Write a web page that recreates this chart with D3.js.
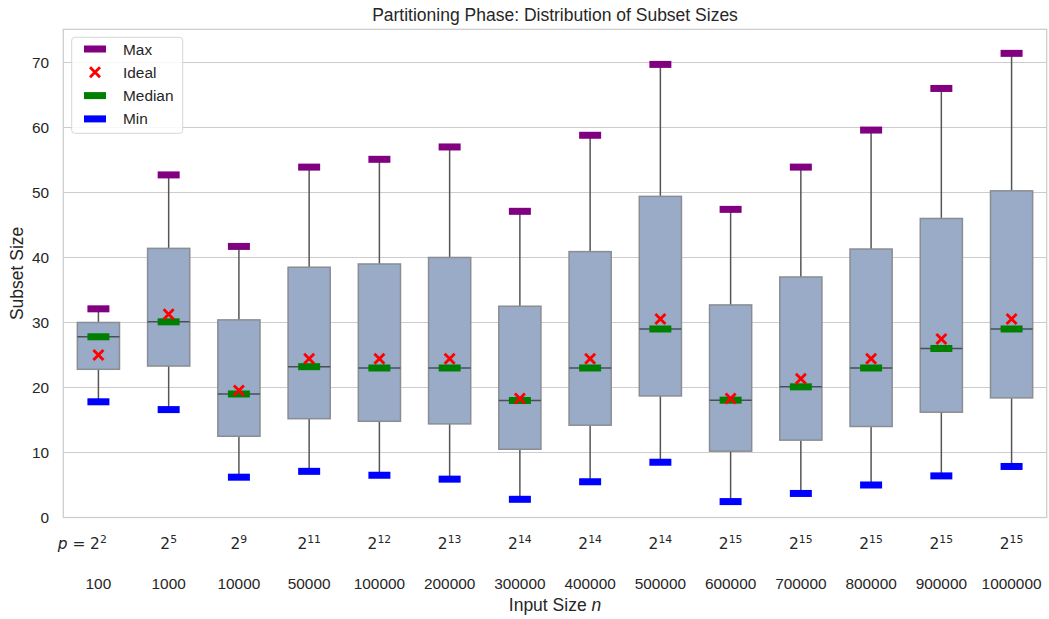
<!DOCTYPE html>
<html>
<head>
<meta charset="utf-8">
<script src="https://cdn.jsdelivr.net/npm/d3@7"></script>
<style>
  body { margin: 0; background: #fff; }
  text { font-family: "Liberation Sans", Arial, sans-serif; fill: #262626; }
</style>
</head>
<body>
<svg width="1049" height="619"></svg>
<script>
const sizes = ["100", "1000", "10000", "50000", "100000", "200000", "300000",
  "400000", "500000", "600000", "700000", "800000", "900000", "1000000"];
const pExp = [2, 5, 9, 11, 12, 13, 14, 14, 14, 15, 15, 15, 15, 15];
const minVals = [17.8, 16.6, 6.2, 7.1, 6.5, 5.9, 2.8, 5.5, 8.5, 2.45, 3.7, 5.0, 6.4, 7.85];
const q1Vals = [22.8, 23.3, 12.5, 15.2, 14.8, 14.4, 10.5, 14.2, 18.7, 10.2, 11.9, 14.0, 16.2, 18.4];
const medVals = [27.8, 30.1, 19.0, 23.2, 23.0, 23.0, 18.0, 23.0, 29.0, 18.05, 20.1, 23.0, 26.0, 29.0];
const q3Vals = [30.0, 41.4, 30.4, 38.5, 39.0, 40.0, 32.5, 40.9, 49.4, 32.7, 37.0, 41.3, 46.0, 50.25];
const maxVals = [32.1, 52.7, 41.7, 53.9, 55.1, 57.0, 47.1, 58.8, 69.7, 47.4, 53.9, 59.6, 66.0, 71.4];
const idealVals = [25.0, 31.25, 19.53, 24.41, 24.41, 24.41, 18.31, 24.41, 30.52, 18.31, 21.36, 24.41, 27.47, 30.52];
const yTicks = [0, 10, 20, 30, 40, 50, 60, 70];

const svg = d3.select("svg");
const plotL = 63.3, plotR = 1046.7, plotT = 29.3, plotB = 517.5;
const tickFs = 15.4, labelFs = 17.5;

const x = d3.scaleBand().domain(sizes).range([plotL, plotR]).paddingInner(0).paddingOuter(0);
const y = d3.scaleLinear().domain([0, 75.1]).range([plotB, plotT]);
const bw = x.bandwidth();
const cx = (i) => x(sizes[i]) + bw / 2;

// grid
svg.append("g").selectAll("line").data(yTicks).join("line")
  .attr("x1", plotL).attr("x2", plotR)
  .attr("y1", (d) => y(d)).attr("y2", (d) => y(d))
  .attr("stroke", "#cccccc").attr("stroke-width", 1.1);

// y tick labels
svg.append("g").selectAll("text").data(yTicks).join("text")
  .attr("x", 49).attr("y", (d) => y(d)).attr("dy", "0.36em")
  .attr("text-anchor", "end").attr("font-size", tickFs).text((d) => d);

const boxes = svg.append("g");
sizes.forEach((s, i) => {
  const g = boxes.append("g");
  const c = cx(i);
  const w = bw * 0.6;
  // whiskers
  g.append("line").attr("x1", c).attr("x2", c)
    .attr("y1", y(q3Vals[i])).attr("y2", y(maxVals[i]))
    .attr("stroke", "#555").attr("stroke-width", 1.5);
  g.append("line").attr("x1", c).attr("x2", c)
    .attr("y1", y(q1Vals[i])).attr("y2", y(minVals[i]))
    .attr("stroke", "#555").attr("stroke-width", 1.5);
  g.append("rect").attr("x", c - w / 2).attr("width", w)
    .attr("y", y(q3Vals[i])).attr("height", y(q1Vals[i]) - y(q3Vals[i]))
    .attr("fill", "#9aabc7").attr("stroke", "#8a8d92").attr("stroke-width", 1.5);
  g.append("line").attr("x1", c - w / 2).attr("x2", c + w / 2)
    .attr("y1", y(medVals[i])).attr("y2", y(medVals[i]))
    .attr("stroke", "#4a4f57").attr("stroke-width", 1.5);
});

function bar(g, cxp, cyp, color) {
  g.append("rect").attr("x", cxp - 11).attr("y", cyp - 3.5)
    .attr("width", 22).attr("height", 7).attr("fill", color);
}
function cross(g, cxp, cyp) {
  const r = 5;
  g.append("path")
    .attr("d", `M${cxp - r},${cyp - r}L${cxp + r},${cyp + r}M${cxp - r},${cyp + r}L${cxp + r},${cyp - r}`)
    .attr("stroke", "#ff0000").attr("stroke-width", 2.8).attr("fill", "none");
}

const marks = svg.append("g");
sizes.forEach((s, i) => {
  bar(marks, cx(i), y(maxVals[i]), "#800080");
  bar(marks, cx(i), y(minVals[i]), "#0000ff");
  bar(marks, cx(i), y(medVals[i]), "#008000");
  cross(marks, cx(i), y(idealVals[i]));
});

// spines
svg.append("rect").attr("x", plotL).attr("y", plotT)
  .attr("width", plotR - plotL).attr("height", plotB - plotT)
  .attr("fill", "none").attr("stroke", "#cccccc").attr("stroke-width", 1.25);

// x tick labels: p row and n row
const xl = svg.append("g");
sizes.forEach((s, i) => {
  const t = xl.append("text").attr("x", cx(i)).attr("y", 549)
    .attr("text-anchor", "middle").attr("font-size", tickFs)
    .style("font-family", "'DejaVu Sans', sans-serif");
  t.append("tspan").text("2");
  t.append("tspan").attr("dy", -6).attr("font-size", 10.8).text(pExp[i]);
  xl.append("text").attr("x", cx(i)).attr("y", 589)
    .attr("text-anchor", "middle").attr("font-size", tickFs).text(s);
});
xl.append("text").attr("x", cx(0) - 13).attr("y", 549)
  .attr("text-anchor", "end").attr("font-size", tickFs)
  .style("font-family", "'DejaVu Sans', sans-serif")
  .html("<tspan font-style='italic'>p</tspan> =");

// axis labels and title
svg.append("text").attr("x", (plotL + plotR) / 2).attr("y", 611)
  .attr("text-anchor", "middle").attr("font-size", labelFs)
  .html("Input Size <tspan font-style='italic'>n</tspan>");
svg.append("text").attr("transform", `translate(23,${(plotT + plotB) / 2}) rotate(-90)`)
  .attr("text-anchor", "middle").attr("font-size", labelFs).text("Subset Size");
svg.append("text").attr("x", (plotL + plotR) / 2).attr("y", 21)
  .attr("text-anchor", "middle").attr("font-size", labelFs)
  .text("Partitioning Phase: Distribution of Subset Sizes");

// legend
const lg = svg.append("g");
lg.append("rect").attr("x", 71.7).attr("y", 37.3).attr("width", 111).attr("height", 96)
  .attr("rx", 3).attr("fill", "#fff").attr("fill-opacity", 0.85)
  .attr("stroke", "#d6d6d6").attr("stroke-width", 1);
const legItems = [
  { label: "Max", type: "bar", color: "#800080" },
  { label: "Ideal", type: "cross" },
  { label: "Median", type: "bar", color: "#008000" },
  { label: "Min", type: "bar", color: "#0000ff" }
];
legItems.forEach((d, i) => {
  const ly = 49 + i * 23.3;
  if (d.type === "bar") bar(lg, 95, ly, d.color);
  else cross(lg, 95, ly);
  lg.append("text").attr("x", 123).attr("y", ly).attr("dy", "0.36em")
    .attr("font-size", tickFs).text(d.label);
});
</script>
</body>
</html>
